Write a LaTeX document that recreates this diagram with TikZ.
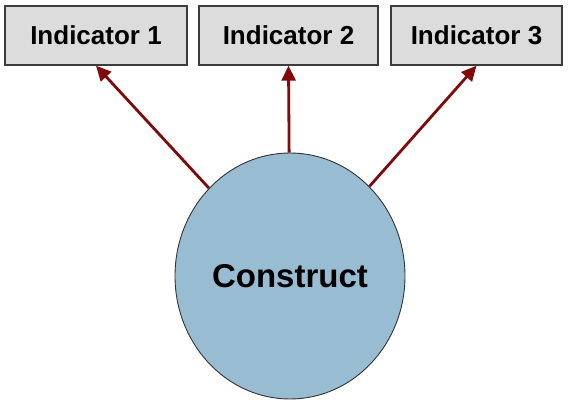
\documentclass[tikz,border=0pt]{standalone}
\usepackage{fontspec}
\setmainfont{Liberation Sans}
\usetikzlibrary{arrows.meta,shapes.geometric}
\definecolor{boxfill}{RGB}{220,220,220}
\definecolor{boxline}{RGB}{60,60,60}
\definecolor{circfill}{RGB}{152,188,210}
\definecolor{arrowred}{RGB}{128,10,10}
\tikzset{
  indbox/.style={draw=boxline, line width=1.4pt, fill=boxfill, minimum height=59pt, inner sep=0pt,
    font=\fontsize{26}{30}\selectfont\bfseries},
  construct/.style={ellipse, draw=black!80, line width=0.9pt, fill=circfill, minimum width=230pt, minimum height=246pt, inner sep=0pt,
    font=\fontsize{33}{38}\selectfont\bfseries},
  link/.style={draw=arrowred, line width=2.8pt, -{Triangle[length=15pt,width=14pt]}}
}
\begin{document}
\begin{tikzpicture}[x=1pt,y=1pt]
\useasboundingbox (0,0) rectangle (568,402);
\node[indbox, minimum width=182pt] (i1) at (96,366.5) {Indicator 1};
\node[indbox, minimum width=179pt] (i2) at (288.5,366.5) {Indicator 2};
\node[indbox, minimum width=171pt] (i3) at (476.5,366.5) {Indicator 3};
\node[construct] (c) at (290,126) {Construct};
\draw[link] (c) -- (i1.south);
\draw[link] (c) -- (i2.south);
\draw[link] (c) -- (i3.south);
\end{tikzpicture}
\end{document}
